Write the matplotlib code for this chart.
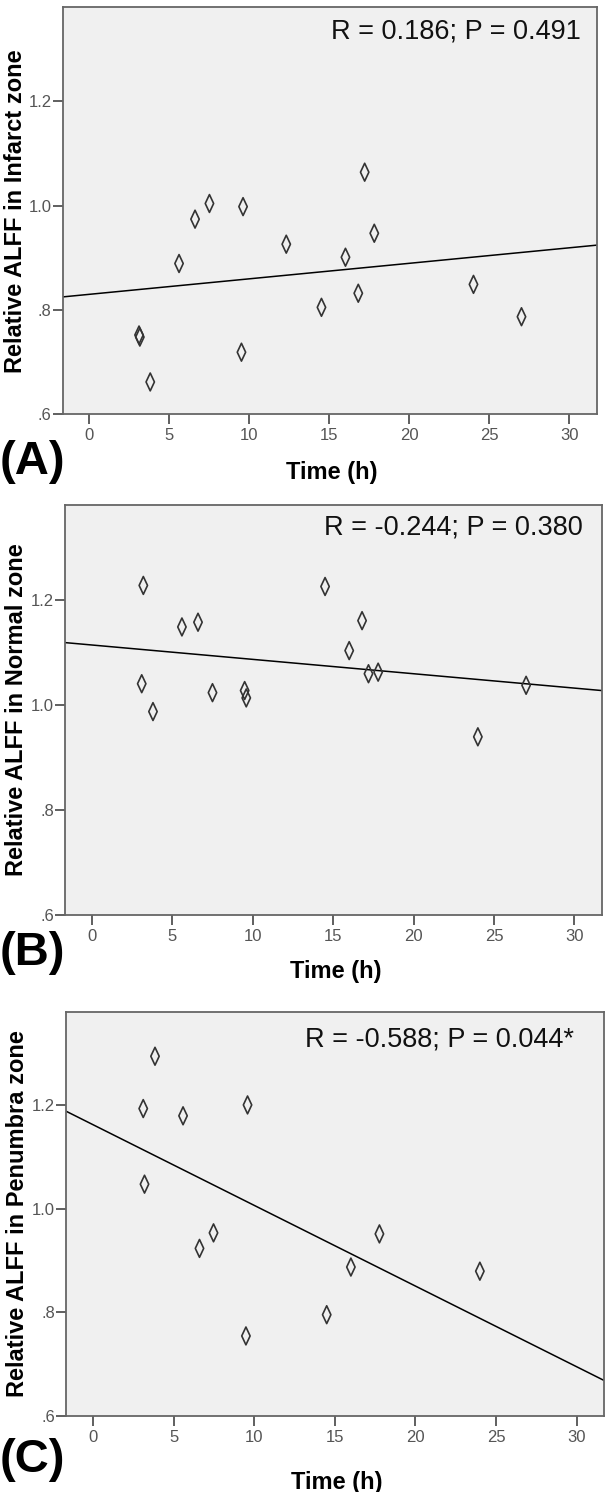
import numpy as np
import matplotlib
matplotlib.use("Agg")
import matplotlib.pyplot as plt
from matplotlib.path import Path
from matplotlib.ticker import FuncFormatter

plt.rcParams['font.family'] = ['Liberation Sans', 'DejaVu Sans']

# data
time_a = [3.1, 3.15, 3.8, 5.6, 6.6, 7.5, 9.6, 9.5, 12.3, 14.5, 16.0, 16.8, 17.2, 17.8, 24.0, 27.0]
alff_a = [0.752, 0.748, 0.662, 0.889, 0.974, 1.004, 0.998, 0.719, 0.926, 0.805, 0.901, 0.832, 1.064, 0.947, 0.849, 0.787]

time_b = [3.2, 3.1, 3.8, 5.6, 6.6, 7.5, 9.5, 9.6, 14.5, 16.0, 16.8, 17.2, 17.8, 24.0, 27.0]
alff_b = [1.227, 1.040, 0.987, 1.148, 1.157, 1.023, 1.027, 1.013, 1.225, 1.103, 1.160, 1.059, 1.062, 0.939, 1.037]

time_c = [3.12, 3.2, 3.85, 5.59, 6.61, 7.48, 9.49, 9.59, 14.5, 16.0, 17.77, 24.0]
alff_c = [1.193, 1.047, 1.294, 1.179, 0.923, 0.953, 0.754, 1.200, 0.795, 0.887, 0.951, 0.879]

ylabels = ["Relative ALFF in Infarct zone", "Relative ALFF in Normal zone", "Relative ALFF in Penumbra zone"]
stats = ["R = 0.186; P = 0.491", "R = -0.244; P = 0.380", "R = -0.588; P = 0.044*"]
panel_tags = ["(A)", "(B)", "(C)"]

W, H = 613, 1492
fig = plt.figure(figsize=(W / 100, H / 100), dpi=100)

# axes boxes in pixels: left, top, right, bottom
boxes = [(62.7, 7.3, 596.7, 414.3), (65, 505, 601.7, 915), (66, 1011.7, 604, 1415.7)]
stat_pos = [(581, 32), (583, 528), (574, 1040)]
ylab_x = [16, 16.5, 17.5]
xlab_y = [472, 971, 1482]
tag_y = [462, 953, 1460]

# tall thin diamond like the SPSS marker
diamond = Path([(0, 1), (0.47, 0), (0, -1), (-0.47, 0), (0, 1)],
               [Path.MOVETO, Path.LINETO, Path.LINETO, Path.LINETO, Path.CLOSEPOLY])

datasets = [(time_a, alff_a), (time_b, alff_b), (time_c, alff_c)]
xlim = (-1.67, 31.7)
ylim = (0.6, 1.38)

for i, (x, y) in enumerate(datasets):
    l, t, r, b = boxes[i]
    ax = fig.add_axes([l / W, 1 - b / H, (r - l) / W, (b - t) / H])
    ax.set_facecolor('#f0f0f0')
    ax.scatter(x, y, marker=diamond, s=165, facecolors='none', edgecolors='#333333', linewidths=1.2, zorder=3)

    slope, icpt = np.polyfit(x, y, 1)
    xx = np.array(xlim)
    ax.plot(xx, icpt + slope * xx, color='black', lw=1.1, zorder=2)

    ax.set_xlim(xlim)
    ax.set_ylim(ylim)
    ax.set_xticks([0, 5, 10, 15, 20, 25, 30])
    ax.set_yticks([0.6, 0.8, 1.0, 1.2])
    ax.yaxis.set_major_formatter(FuncFormatter(lambda v, p: ("%.1f" % v).lstrip('0')))
    ax.tick_params(direction='out', length=7, width=1.2, color='#444444',
                   labelsize=12, labelcolor='#555555', pad=3)
    ax.tick_params(axis='y', pad=1)
    for s in ax.spines.values():
        s.set_color('#666666')
        s.set_linewidth(1.3)

    sx, sy = stat_pos[i]
    fig.text(sx / W, 1 - sy / H, stats[i], ha='right', va='center', fontsize=19.5, color='#111111')
    fig.text(ylab_x[i] / W, 1 - ((t + b) / 2) / H, ylabels[i], rotation=90,
             ha='center', va='center', fontsize=17, fontweight='bold')
    fig.text(((l + r) / 2 + 2) / W, 1 - xlab_y[i] / H, "Time (h)", ha='center', va='center',
             fontsize=17, fontweight='bold')
    fig.text(0, 1 - tag_y[i] / H, panel_tags[i], ha='left', va='center',
             fontsize=34, fontweight='bold')

fig.savefig("out.png", dpi=100, facecolor='white')
